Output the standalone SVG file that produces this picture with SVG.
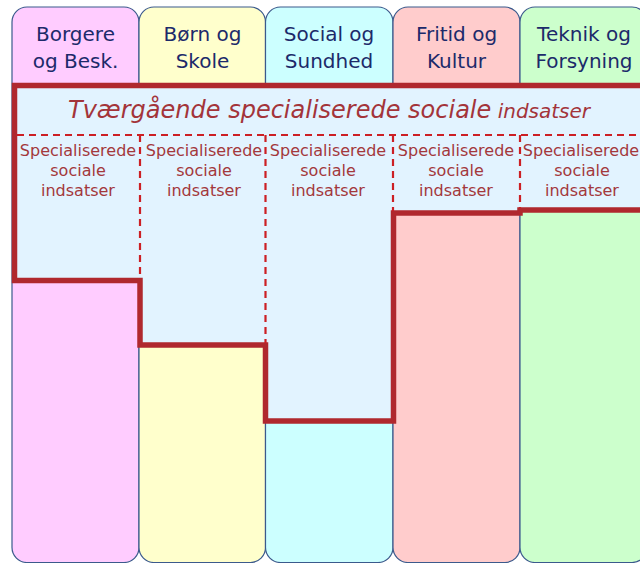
<svg xmlns="http://www.w3.org/2000/svg" width="640" height="563" viewBox="0 0 640 563">
  <style>
    .col { stroke: #3b5a8c; stroke-width: 1.2; }
    .head { font-family: "DejaVu Sans", Verdana, sans-serif; font-size: 20px; fill: #1c2a6a; text-anchor: middle; }
    .title { font-family: "DejaVu Sans", Verdana, sans-serif; font-style: italic; fill: #a3343a; }
    .sub { font-family: "DejaVu Sans", Verdana, sans-serif; font-size: 16px; fill: #a3383c; text-anchor: middle; }
    .band { fill: #e2f3ff; stroke: #b0282e; stroke-width: 5.5; stroke-linejoin: miter; }
    .dash { stroke: #cc1f24; stroke-width: 2.2; stroke-dasharray: 7 5; fill: none; }
  </style>

  <!-- sector columns -->
  <g id="col-borgere">
    <rect class="col" x="12" y="7" width="127" height="555.5" rx="15" fill="#ffccff"/>
    <text class="head" x="75.5" y="41">Borgere</text>
    <text class="head" x="75.5" y="68">og Besk.</text>
  </g>
  <g id="col-boern">
    <rect class="col" x="139" y="7" width="126.5" height="555.5" rx="15" fill="#ffffcc"/>
    <text class="head" x="202.5" y="41">Børn og</text>
    <text class="head" x="202.5" y="68">Skole</text>
  </g>
  <g id="col-social">
    <rect class="col" x="265.5" y="7" width="127.5" height="555.5" rx="15" fill="#ccffff"/>
    <text class="head" x="329" y="41">Social og</text>
    <text class="head" x="329" y="68">Sundhed</text>
  </g>
  <g id="col-fritid">
    <rect class="col" x="393" y="7" width="127" height="555.5" rx="15" fill="#ffcccc"/>
    <text class="head" x="456.5" y="41">Fritid og</text>
    <text class="head" x="456.5" y="68">Kultur</text>
  </g>
  <g id="col-teknik">
    <rect class="col" x="520" y="7" width="127" height="555.5" rx="15" fill="#ccffcc"/>
    <text class="head" x="584" y="41">Teknik og</text>
    <text class="head" x="584" y="68">Forsyning</text>
  </g>

  <!-- cross-cutting band with stepped lower edge -->
  <g id="tvaergaaende">
    <path class="band" d="M14.5,85.5 H645 V210 H520 V213 H393.5 V421 H265.5 V345 H140 V280.5 H14.5 Z"/>
    <text class="title" x="68" y="118"><tspan font-size="24">Tværgående specialiserede sociale</tspan><tspan font-size="20"> indsatser</tspan></text>
  </g>

  <!-- dashed dividers -->
  <g id="dividers">
    <line class="dash" x1="17" y1="135" x2="640" y2="135"/>
    <line class="dash" x1="140" y1="135" x2="140" y2="278"/>
    <line class="dash" x1="265.5" y1="135" x2="265.5" y2="343"/>
    <line class="dash" x1="393" y1="135" x2="393" y2="211"/>
    <line class="dash" x1="520" y1="135" x2="520" y2="208"/>
  </g>

  <!-- per-sector specialised efforts -->
  <g id="spec-borgere">
    <text class="sub" x="78" y="156">Specialiserede</text>
    <text class="sub" x="78" y="176">sociale</text>
    <text class="sub" x="78" y="196">indsatser</text>
  </g>
  <g id="spec-boern">
    <text class="sub" x="204" y="156">Specialiserede</text>
    <text class="sub" x="204" y="176">sociale</text>
    <text class="sub" x="204" y="196">indsatser</text>
  </g>
  <g id="spec-social">
    <text class="sub" x="328" y="156">Specialiserede</text>
    <text class="sub" x="328" y="176">sociale</text>
    <text class="sub" x="328" y="196">indsatser</text>
  </g>
  <g id="spec-fritid">
    <text class="sub" x="456" y="156">Specialiserede</text>
    <text class="sub" x="456" y="176">sociale</text>
    <text class="sub" x="456" y="196">indsatser</text>
  </g>
  <g id="spec-teknik">
    <text class="sub" x="581" y="156">Specialiserede</text>
    <text class="sub" x="582" y="176">sociale</text>
    <text class="sub" x="582" y="196">indsatser</text>
  </g>
</svg>
